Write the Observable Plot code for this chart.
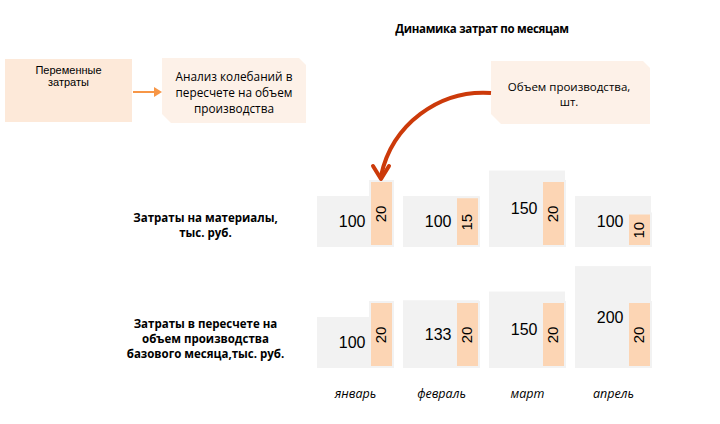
<!DOCTYPE html>
<html>
<head>
<meta charset="utf-8">
<script src="https://cdn.jsdelivr.net/npm/d3@7"></script>
<script src="https://cdn.jsdelivr.net/npm/@observablehq/plot@0.6"></script>
<style>
  html, body { margin: 0; padding: 0; background: #fff; }
  #wrap { position: relative; width: 720px; height: 424px; overflow: hidden; font-family: "Open Sans", sans-serif; }
  #wrap > svg, #wrap > .layer { position: absolute; left: 0; top: 0; }
  .title { position: absolute; left: 0; top: 21px; width: 964px; text-align: center; font-weight: bold; font-size: 11.5px; letter-spacing: -0.3px; color: #000; }
  .note { position: absolute; text-align: center; color: #000; }
</style>
</head>
<body>
<div id="wrap">
  <div class="title">Динамика затрат по месяцам</div>
</div>
<script>
// ---- data ----
const months = ["январь", "февраль", "март", "апрель"];
const rows = ["materials", "normalized"];
const rowLabels = ["Затраты на материалы,\nтыс. руб.", "Затраты в пересчете на\nобъем производства\nбазового месяца,тыс. руб."];
const costMaterials = [100, 100, 150, 100];
const costNormalized = [100, 133, 150, 200];
const unitsMaterials = [20, 15, 20, 10];
const unitsNormalized = [20, 20, 20, 20];

const table = [];
months.forEach((m, i) => {
  table.push({row: rows[0], month: m, cost: costMaterials[i], units: unitsMaterials[i]});
  table.push({row: rows[1], month: m, cost: costNormalized[i], units: unitsNormalized[i]});
});
const labelTable = rows.map((r, i) => ({row: r, label: rowLabels[i]}));

const common = {
  width: 720, height: 424,
  marginLeft: 305, marginRight: 57, marginTop: 140, marginBottom: 56,
  x: {domain: months, paddingInner: 0.115, paddingOuter: 0.115, axis: null},
  fy: {domain: rows, paddingInner: 14 / 121, paddingOuter: 0, axis: null},
  style: {background: "none", overflow: "visible"}
};

// grey layer: costs
const plotCost = Plot.plot({
  ...common,
  y: {domain: [0, 210], axis: null},
  marks: [
    Plot.barY(table, {x: "month", y: "cost", fy: "row", fill: "#f2f2f2"}),
    Plot.text(table, {x: "month", y: d => d.cost / 2, fy: "row", text: d => String(d.cost),
      textAnchor: "end", dx: 10, fontSize: 16, fontFamily: "Liberation Sans, Arial, sans-serif", fill: "#000"}),
    Plot.text(labelTable, {fy: "row", text: "label", frameAnchor: "bottom-left", dx: -100, dy: -11,
      textAnchor: "middle", lineAnchor: "bottom", fontWeight: "bold", fontSize: 11.5,
      fontFamily: "Open Sans, sans-serif", fill: "#000", lineHeight: 1.3}),
    Plot.axisX({tickSize: 0, tickPadding: 21, fontStyle: "italic", fontSize: 12.5,
      fontFamily: "Open Sans, sans-serif", fill: "#000", label: null})
  ]
});

// peach layer: production units
const plotUnits = Plot.plot({
  ...common,
  y: {domain: [0, 107 / 3.25], axis: null},
  marks: [
    Plot.barY(table, {x: "month", y: "units", fy: "row", fill: "#f2f2f2", insetLeft: 52, insetRight: -1, insetTop: -2}),
    Plot.barY(table, {x: "month", y: "units", fy: "row", fill: "#fcd5b4", insetLeft: 54, insetRight: 1, insetBottom: 2}),
    Plot.text(table, {x: "month", y: d => d.units / 2, fy: "row", text: d => String(d.units),
      rotate: -90, dx: 26, dy: -1, fontSize: 15, fontFamily: "Liberation Sans, Arial, sans-serif", fill: "#000"})
  ]
});

const wrap = document.getElementById("wrap");
wrap.appendChild(plotCost);
wrap.appendChild(plotUnits);

// ---- annotations ----
const NS = "http://www.w3.org/2000/svg";
const deco = document.createElementNS(NS, "svg");
deco.setAttribute("width", 720);
deco.setAttribute("height", 424);
deco.setAttribute("class", "layer");
deco.innerHTML = `
  <rect x="5" y="59" width="127" height="63" fill="#fde9d9"/>
  <polygon points="162,58 299,58 306,65 306,123 171,123 162,114" fill="#fdf1e8"/>
  <polygon points="491,61 643,61 650,68 650,124 501,124 491,114" fill="#fdf1e8"/>
  <line x1="133" y1="92" x2="155" y2="92" stroke="#f79646" stroke-width="2"/>
  <polygon points="154,87 162,92 154,97" fill="#f79646"/>
  <path d="M491,93 A105,105 0 0 0 381,176" fill="none" stroke="#cc3a0a" stroke-width="4"/>
  <polyline points="373,166 381,179 389,166" fill="none" stroke="#cc3a0a" stroke-width="4" stroke-linecap="round" stroke-linejoin="round"/>
`;
wrap.appendChild(deco);

function note(text, left, top, width, size, lh, family) {
  const d = document.createElement("div");
  d.className = "note";
  d.style.left = left + "px";
  d.style.top = top + "px";
  d.style.width = width + "px";
  d.style.fontSize = size + "px";
  d.style.lineHeight = lh + "px";
  if (family) d.style.fontFamily = family;
  d.innerHTML = text;
  wrap.appendChild(d);
}
note("Переменные<br>затраты", 5, 64, 127, 11, 12, "Liberation Sans, Arial, sans-serif");
note("Анализ колебаний в<br>пересчете на объем<br>производства", 162, 68, 144, 11.8, 16);
note("Объем производства,<br>шт.", 491, 78.5, 156, 11.5, 15);
</script>
</body>
</html>
